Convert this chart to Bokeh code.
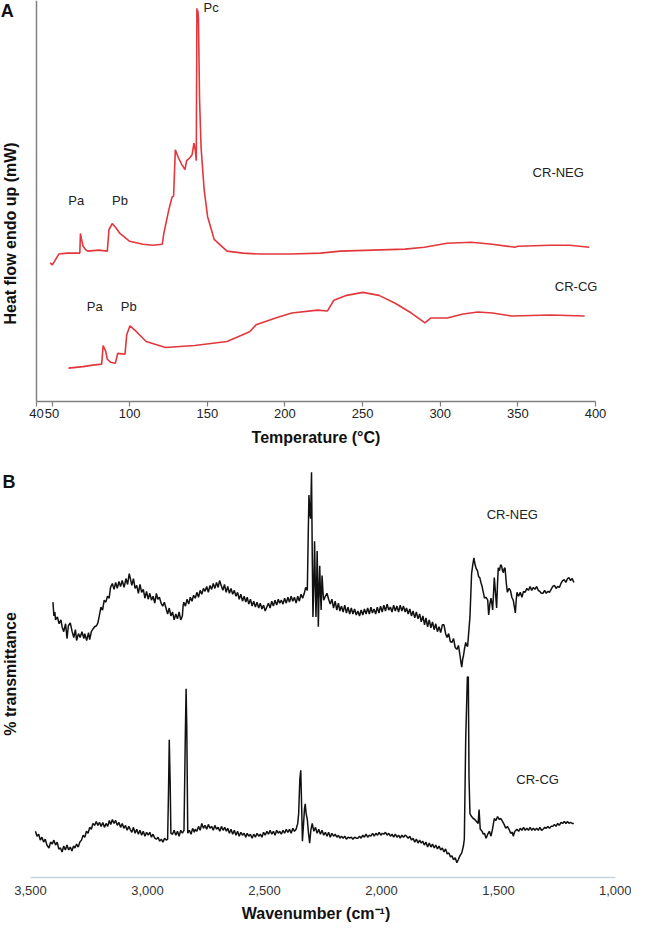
import math
from bokeh.plotting import figure
from bokeh.layouts import column
from bokeh.models import Range1d, FixedTicker, Label, Span
from bokeh.embed import file_html
from bokeh.resources import INLINE

FONT = "Liberation Sans"

# ---------------- Panel A: DSC (temperature in °C, heat flow arbitrary units) ----------------
dsc_ticks = [40, 50, 100, 150, 200, 250, 300, 350, 400]

dsc_neg_temp = [48.75, 50.2, 54.4, 60, 67.9, 68.3, 69, 70, 72, 73, 80, 85.6, 86.7, 88.75, 91, 93.75,
                100, 108.5, 115, 121, 122, 125.2, 127.3, 128.3, 129.4, 131.4, 133.6, 135.6, 136.7,
                138.75, 140.2, 141.4, 142.3, 142.9, 143.3, 143.6, 143.9, 144.3, 145, 146, 148,
                150.2, 154.4, 162.7, 173, 183.6, 204, 223, 235.6, 277.3, 289.8, 304.4, 320,
                333.5, 348, 350, 371, 383.5, 396]
dsc_neg_flow = [141, 139, 150, 151, 151, 171, 165, 158, 154, 153, 154, 153, 175, 181, 177, 171,
                163, 160, 159, 160, 171, 195, 208, 209, 256, 248, 241, 236, 245,
                248, 251, 263, 255, 245, 400, 385, 398, 390, 308, 258, 215,
                188, 165, 153, 151, 150, 150, 151, 153, 155, 157, 161, 162,
                160, 157, 158, 159, 159, 157]

dsc_cg_temp = [60.6, 70, 76.25, 82, 82.9, 84.6, 85.6, 87.7, 90.8, 92.3, 95, 97, 98.1, 100.2, 104.4,
               110.6, 123.1, 141.9, 162.7, 177.3, 181.4, 194, 204.4, 221, 227.3, 231.5, 239.8,
               250.2, 260.6, 271, 281.4, 290.2, 294, 304.4, 314.8, 324.2, 333.6, 346, 371, 393]
dsc_cg_flow = [34, 35.5, 37, 38, 57, 51, 43, 40, 39, 49, 48.5, 48, 68, 77, 71,
               61, 55, 57, 61, 71, 78, 85, 90, 93, 92, 103, 108,
               111, 108, 100, 90, 80, 85, 85, 89, 91, 90, 87, 88, 87]

# ---------------- Panel B: FTIR (wavenumber cm-1, % transmittance arbitrary units) ----------------
ftir_ticks = [3500, 3000, 2500, 2000, 1500, 1000]
ftir_tick_labels = ["3,500", "3,000", "2,500", "2,000", "1,500", "1,000"]

ftir_neg = [
    (3404, 280), (3400, 266), (3396, 270), (3393, 262), (3385, 265), (3378, 258), (3370, 262),
    (3365, 255), (3358, 250), (3350, 258), (3344, 243), (3338, 256), (3330, 259), (3322, 250),
    (3315, 244), (3308, 252), (3303, 241), (3295, 248), (3288, 244), (3280, 250), (3272, 243),
    (3268, 248), (3260, 241), (3252, 249), (3247, 242), (3240, 250), (3232, 253), (3226, 255),
    (3218, 256), (3212, 259), (3206, 266), (3199, 275), (3192, 272), (3185, 282), (3178, 280),
    (3171, 286), (3164, 284), (3158, 295), (3150, 299), (3143, 293), (3136, 300), (3129, 294),
    (3122, 301), (3115, 296), (3108, 302), (3100, 295), (3092, 304), (3085, 298), (3078, 309),
    (3074, 305), (3067, 297), (3060, 304), (3053, 294), (3046, 297), (3039, 289), (3032, 298),
    (3025, 290), (3018, 293), (3011, 284), (3004, 291), (2997, 283), (2990, 289), (2983, 282),
    (2976, 286), (2969, 279), (2962, 289), (2956, 283), (2949, 285), (2942, 279), (2935, 276),
    (2928, 280), (2921, 274), (2914, 268), (2907, 274), (2900, 266), (2893, 270), (2886, 262),
    (2879, 268), (2872, 263), (2865, 270), (2858, 262), (2851, 266), (2848, 276), (2845, 280),
    (2838, 276), (2831, 283), (2824, 278), (2817, 285), (2810, 281), (2803, 287), (2796, 284),
    (2789, 290), (2782, 285), (2775, 292), (2768, 288), (2761, 294), (2754, 291), (2747, 296),
    (2740, 290), (2733, 297), (2726, 293), (2719, 299), (2712, 294), (2705, 300), (2698, 295),
    (2692, 302), (2685, 297), (2678, 292), (2671, 298), (2664, 290), (2657, 296), (2650, 289),
    (2643, 294), (2636, 288), (2629, 292), (2622, 286), (2615, 290), (2608, 283), (2601, 288),
    (2594, 281), (2587, 286), (2580, 280), (2574, 285), (2567, 278), (2560, 283), (2553, 276),
    (2546, 281), (2539, 275), (2532, 280), (2525, 274), (2518, 279), (2511, 273), (2504, 277),
    (2497, 271), (2490, 275), (2483, 279), (2476, 274), (2469, 281), (2462, 276), (2455, 282),
    (2448, 277), (2441, 283), (2435, 279), (2428, 282), (2421, 278), (2414, 284), (2407, 279),
    (2400, 285), (2393, 280), (2386, 286), (2379, 281), (2372, 285), (2365, 279), (2358, 286),
    (2351, 281), (2344, 288), (2337, 284), (2330, 289), (2324, 295), (2317, 292), (2313, 350),
    (2310, 389), (2306, 370), (2303, 365), (2299, 412), (2296, 330), (2293, 265), (2289, 300),
    (2286, 342), (2283, 300), (2280, 265), (2277, 300), (2275, 332), (2272, 290), (2270, 255),
    (2267, 290), (2264, 317), (2261, 290), (2258, 272), (2256, 290), (2254, 307), (2250, 290),
    (2247, 282), (2240, 286), (2233, 289), (2226, 283), (2219, 278), (2212, 283), (2205, 274),
    (2198, 281), (2191, 272), (2184, 279), (2178, 271), (2171, 276), (2164, 270), (2157, 277),
    (2150, 269), (2143, 275), (2136, 268), (2129, 274), (2122, 268), (2115, 273), (2108, 267),
    (2101, 271), (2094, 266), (2087, 272), (2080, 267), (2073, 273), (2066, 268), (2059, 274),
    (2052, 268), (2045, 275), (2039, 269), (2032, 273), (2025, 268), (2018, 275), (2011, 269),
    (2004, 276), (1997, 270), (1990, 277), (1983, 271), (1976, 278), (1969, 272), (1962, 275),
    (1955, 270), (1948, 277), (1941, 271), (1934, 276), (1927, 270), (1920, 277), (1913, 271),
    (1906, 276), (1899, 270), (1893, 274), (1886, 268), (1879, 273), (1872, 266), (1865, 271),
    (1858, 264), (1851, 270), (1844, 263), (1837, 268), (1830, 260), (1823, 266), (1816, 257),
    (1810, 264), (1803, 255), (1796, 262), (1789, 254), (1782, 260), (1775, 252), (1768, 258),
    (1761, 250), (1754, 255), (1747, 249), (1740, 257), (1733, 257), (1726, 248), (1720, 244),
    (1713, 248), (1706, 240), (1699, 239), (1692, 243), (1685, 234), (1678, 232), (1671, 236),
    (1664, 225), (1660, 218), (1657, 214), (1653, 222), (1650, 225), (1645, 233), (1640, 239),
    (1636, 236), (1632, 235), (1627, 250), (1622, 265), (1618, 290), (1615, 309), (1610, 318),
    (1605, 325), (1600, 318), (1595, 314), (1590, 312), (1585, 306), (1580, 305), (1575, 300),
    (1570, 296), (1567, 292), (1563, 288), (1560, 284), (1553, 285), (1546, 282), (1542, 267),
    (1537, 278), (1532, 284), (1528, 278), (1525, 272), (1521, 290), (1518, 305), (1513, 290),
    (1508, 274), (1504, 300), (1501, 315), (1496, 312), (1491, 318), (1487, 317), (1483, 312),
    (1479, 310), (1476, 314), (1472, 315), (1467, 300), (1462, 290), (1455, 294), (1449, 292),
    (1443, 285), (1437, 282), (1432, 275), (1428, 269), (1424, 283), (1421, 290), (1414, 286),
    (1407, 290), (1400, 285), (1393, 291), (1386, 290), (1379, 294), (1372, 292), (1365, 296),
    (1358, 292), (1351, 295), (1344, 293), (1337, 296), (1330, 292), (1324, 291), (1317, 289),
    (1310, 289), (1303, 292), (1296, 289), (1289, 291), (1282, 290), (1275, 293), (1268, 296),
    (1261, 297), (1254, 294), (1247, 296), (1240, 295), (1233, 299), (1226, 302), (1219, 303),
    (1212, 300), (1205, 304), (1199, 305), (1192, 302), (1185, 304), (1178, 300),
]

ftir_cg = [
    (3479, 47), (3472, 42), (3465, 44), (3458, 38), (3451, 41), (3444, 36), (3437, 39),
    (3430, 33), (3421, 30), (3414, 36), (3407, 34), (3400, 38), (3393, 33), (3386, 36),
    (3379, 29), (3372, 30), (3365, 26), (3358, 32), (3351, 28), (3344, 33), (3337, 28),
    (3330, 31), (3323, 27), (3316, 32), (3310, 30), (3303, 34), (3296, 31), (3289, 36),
    (3282, 38), (3275, 43), (3268, 41), (3261, 47), (3254, 45), (3247, 51), (3240, 49),
    (3233, 55), (3226, 53), (3219, 57), (3212, 53), (3205, 56), (3198, 52), (3191, 56),
    (3184, 51), (3177, 55), (3170, 52), (3163, 58), (3157, 54), (3150, 59), (3143, 55),
    (3136, 58), (3129, 53), (3122, 56), (3115, 51), (3108, 55), (3101, 50), (3094, 53),
    (3087, 48), (3080, 52), (3074, 49), (3067, 46), (3060, 51), (3053, 45), (3046, 49),
    (3039, 44), (3032, 48), (3025, 43), (3018, 47), (3011, 42), (3004, 46), (2997, 43),
    (2990, 46), (2983, 41), (2976, 44), (2969, 40), (2962, 39), (2955, 41), (2948, 37),
    (2941, 39), (2934, 36), (2927, 40), (2920, 38), (2914, 39), (2910, 90), (2907, 140),
    (2903, 95), (2900, 45), (2893, 44), (2886, 48), (2879, 43), (2872, 47), (2865, 42),
    (2858, 48), (2851, 45), (2844, 48), (2838, 150), (2835, 192), (2832, 150), (2828, 45),
    (2821, 48), (2814, 44), (2807, 50), (2800, 46), (2796, 49), (2789, 47), (2782, 52),
    (2775, 48), (2768, 55), (2761, 50), (2754, 53), (2747, 49), (2740, 54), (2733, 50),
    (2726, 52), (2719, 48), (2712, 53), (2705, 49), (2698, 51), (2691, 47), (2684, 52),
    (2677, 48), (2670, 51), (2663, 47), (2657, 50), (2650, 45), (2643, 49), (2636, 44),
    (2629, 48), (2622, 43), (2615, 47), (2608, 42), (2601, 46), (2594, 43), (2587, 45),
    (2580, 41), (2574, 45), (2567, 42), (2560, 44), (2553, 40), (2546, 44), (2539, 41),
    (2532, 45), (2525, 42), (2518, 44), (2511, 41), (2504, 46), (2497, 43), (2490, 47),
    (2483, 44), (2476, 48), (2469, 44), (2462, 47), (2455, 43), (2448, 48), (2441, 45),
    (2435, 47), (2428, 44), (2421, 48), (2414, 45), (2407, 49), (2400, 46), (2393, 49),
    (2386, 45), (2379, 50), (2372, 47), (2365, 49), (2358, 55), (2354, 65), (2349, 100),
    (2345, 109), (2341, 70), (2338, 37), (2333, 55), (2329, 70), (2326, 75), (2322, 65),
    (2317, 59), (2312, 45), (2307, 35), (2302, 48), (2296, 55), (2289, 47), (2282, 51),
    (2275, 45), (2268, 49), (2261, 44), (2254, 48), (2247, 43), (2240, 46), (2233, 42),
    (2226, 46), (2219, 41), (2212, 45), (2205, 42), (2198, 44), (2191, 41), (2184, 43),
    (2178, 40), (2171, 42), (2164, 40), (2157, 42), (2150, 39), (2143, 41), (2136, 40),
    (2129, 41), (2122, 39), (2115, 41), (2108, 40), (2101, 40), (2094, 42), (2087, 40),
    (2080, 43), (2073, 41), (2066, 44), (2059, 41), (2052, 43), (2045, 42), (2038, 45),
    (2031, 42), (2024, 45), (2017, 43), (2010, 46), (2003, 43), (1996, 45), (1990, 44),
    (1983, 46), (1976, 43), (1969, 45), (1962, 42), (1955, 44), (1948, 41), (1941, 44),
    (1934, 41), (1927, 43), (1920, 40), (1913, 43), (1906, 41), (1899, 43), (1893, 42),
    (1886, 40), (1879, 42), (1872, 38), (1865, 40), (1858, 36), (1851, 39), (1844, 35),
    (1837, 38), (1830, 35), (1824, 37), (1817, 33), (1810, 36), (1803, 31), (1796, 35),
    (1789, 31), (1782, 34), (1775, 30), (1768, 33), (1761, 29), (1754, 32), (1747, 28),
    (1740, 30), (1733, 26), (1726, 29), (1719, 24), (1712, 25), (1705, 21), (1699, 22),
    (1692, 18), (1685, 20), (1678, 15), (1672, 18), (1665, 22), (1657, 25), (1650, 32),
    (1646, 39), (1640, 142), (1633, 204), (1629, 204), (1626, 102), (1622, 65), (1615, 62),
    (1608, 60), (1601, 59), (1594, 57), (1587, 55), (1583, 69), (1578, 49), (1570, 47),
    (1565, 44), (1560, 45), (1553, 40), (1546, 44), (1539, 47), (1532, 42), (1525, 50),
    (1518, 60), (1511, 58), (1504, 62), (1497, 59), (1490, 60), (1483, 57), (1476, 54),
    (1469, 50), (1462, 52), (1455, 49), (1448, 45), (1441, 46), (1437, 42), (1430, 47),
    (1421, 49), (1414, 47), (1407, 50), (1400, 48), (1393, 51), (1386, 48), (1379, 50),
    (1372, 48), (1365, 51), (1358, 48), (1351, 50), (1344, 48), (1337, 50), (1330, 48),
    (1323, 51), (1316, 48), (1310, 49), (1302, 51), (1296, 50), (1289, 52), (1282, 50),
    (1275, 52), (1268, 52), (1261, 54), (1254, 52), (1247, 55), (1240, 53), (1233, 56),
    (1226, 55), (1219, 57), (1212, 55), (1205, 57), (1199, 55), (1192, 56), (1185, 55),
    (1178, 55),
]
ftir_neg_wn = [w for w, _ in ftir_neg]
ftir_neg_t = [t for _, t in ftir_neg]
ftir_cg_wn = [w for w, _ in ftir_cg]
ftir_cg_t = [t for _, t in ftir_cg]

RED = "#e2373c"
AXIS_GRAY = "#808080"
TXT = "#222222"
TITLE = "#111111"


def style_bottom_axis(ax):
    ax.minor_tick_line_color = None
    ax.major_label_text_font = FONT
    ax.major_label_text_font_size = "13px"
    ax.axis_label_text_font = FONT
    ax.axis_label_text_font_style = "bold"
    ax.axis_label_text_font_size = "16px"
    ax.axis_label_text_color = TITLE


# ---------------- Figure A ----------------
pa = figure(width=631, height=452, output_backend="svg", toolbar_location=None,
            x_range=Range1d(16.82, 423.18), y_range=Range1d(0, 408),
            min_border_left=0, min_border_right=0, min_border_top=0, min_border_bottom=51)
pa.outline_line_color = None
pa.grid.visible = False
pa.yaxis.visible = False

xa = pa.xaxis[0]
style_bottom_axis(xa)
xa.ticker = FixedTicker(ticks=dsc_ticks)
xa.bounds = (dsc_ticks[0], dsc_ticks[-1])
xa.axis_line_color = AXIS_GRAY
xa.axis_line_width = 1.5
xa.major_tick_line_color = AXIS_GRAY
xa.major_tick_line_width = 1.2
xa.major_tick_in = 0
xa.major_tick_out = 5
xa.major_label_text_color = TXT
xa.major_label_standoff = 2
xa.axis_label = "Temperature (°C)"
xa.axis_label_standoff = 8

# vertical axis line at the left end of the temperature scale
pa.add_layout(Span(location=dsc_ticks[0], dimension="height", line_color=AXIS_GRAY, line_width=1.5))

pa.line(dsc_neg_temp, dsc_neg_flow, line_color=RED, line_width=1.6)
pa.line(dsc_cg_temp, dsc_cg_flow, line_color=RED, line_width=1.6)

for tx, x, y in [("Pa", 65.6, 205), ("Pb", 93.75, 205), ("Pc", 152.5, 401),
                 ("Pa", 77.5, 97), ("Pb", 99.4, 97),
                 ("CR-NEG", 376, 233), ("CR-CG", 387.5, 117)]:
    pa.add_layout(Label(x=x, y=y, text=tx, text_font=FONT, text_font_size="13px",
                        text_color=TXT, text_align="center", text_baseline="middle"))

pa.add_layout(Label(x=23.1, y=171, angle=math.pi / 2, text="Heat flow endo up (mW)",
                    text_font=FONT, text_font_style="bold", text_font_size="16px",
                    text_color=TITLE, text_align="center", text_baseline="middle"))
pa.add_layout(Label(x=17.0, y=408, text="A", text_font=FONT, text_font_style="bold",
                    text_font_size="18px", text_color=TITLE,
                    text_align="left", text_baseline="top"))

# ---------------- Figure B ----------------
pb = figure(width=631, height=475, output_backend="svg", toolbar_location=None,
            x_range=Range1d(3628.2, 931.6), y_range=Range1d(0, 432.2),
            min_border_left=0, min_border_right=0, min_border_top=0, min_border_bottom=50)
pb.outline_line_color = None
pb.grid.visible = False
pb.yaxis.visible = False

xb = pb.xaxis[0]
style_bottom_axis(xb)
xb.ticker = FixedTicker(ticks=ftir_ticks)
xb.bounds = (ftir_ticks[-1], ftir_ticks[0])
xb.major_label_overrides = {t: s for t, s in zip(ftir_ticks, ftir_tick_labels)}
xb.axis_line_color = "#c8d5de"
xb.axis_line_width = 1.5
xb.major_tick_in = 0
xb.major_tick_out = 0
xb.major_label_text_color = "#333333"
xb.major_label_standoff = 8
xb.axis_label = "Wavenumber (cm\u207b\u00b9)"
xb.axis_label_standoff = 7

pb.line(ftir_neg_wn, ftir_neg_t, line_color="#111111", line_width=1.5)
pb.line(ftir_cg_wn, ftir_cg_t, line_color="#111111", line_width=1.5)

for tx, x, y in [("CR-NEG", 1441, 369), ("CR-CG", 1333, 100)]:
    pb.add_layout(Label(x=x, y=y, text=tx, text_font=FONT, text_font_size="13px",
                        text_color=TXT, text_align="center", text_baseline="middle"))

pb.add_layout(Label(x=3586.5, y=207, angle=math.pi / 2, text="% transmittance",
                    text_font=FONT, text_font_style="bold", text_font_size="16px",
                    text_color=TITLE, text_align="center", text_baseline="middle"))
pb.add_layout(Label(x=3619.7, y=412, text="B", text_font=FONT, text_font_style="bold",
                    text_font_size="18px", text_color=TITLE,
                    text_align="left", text_baseline="top"))

layout = column(pa, pb, spacing=0)
open("out.html", "w").write(file_html(layout, INLINE))
